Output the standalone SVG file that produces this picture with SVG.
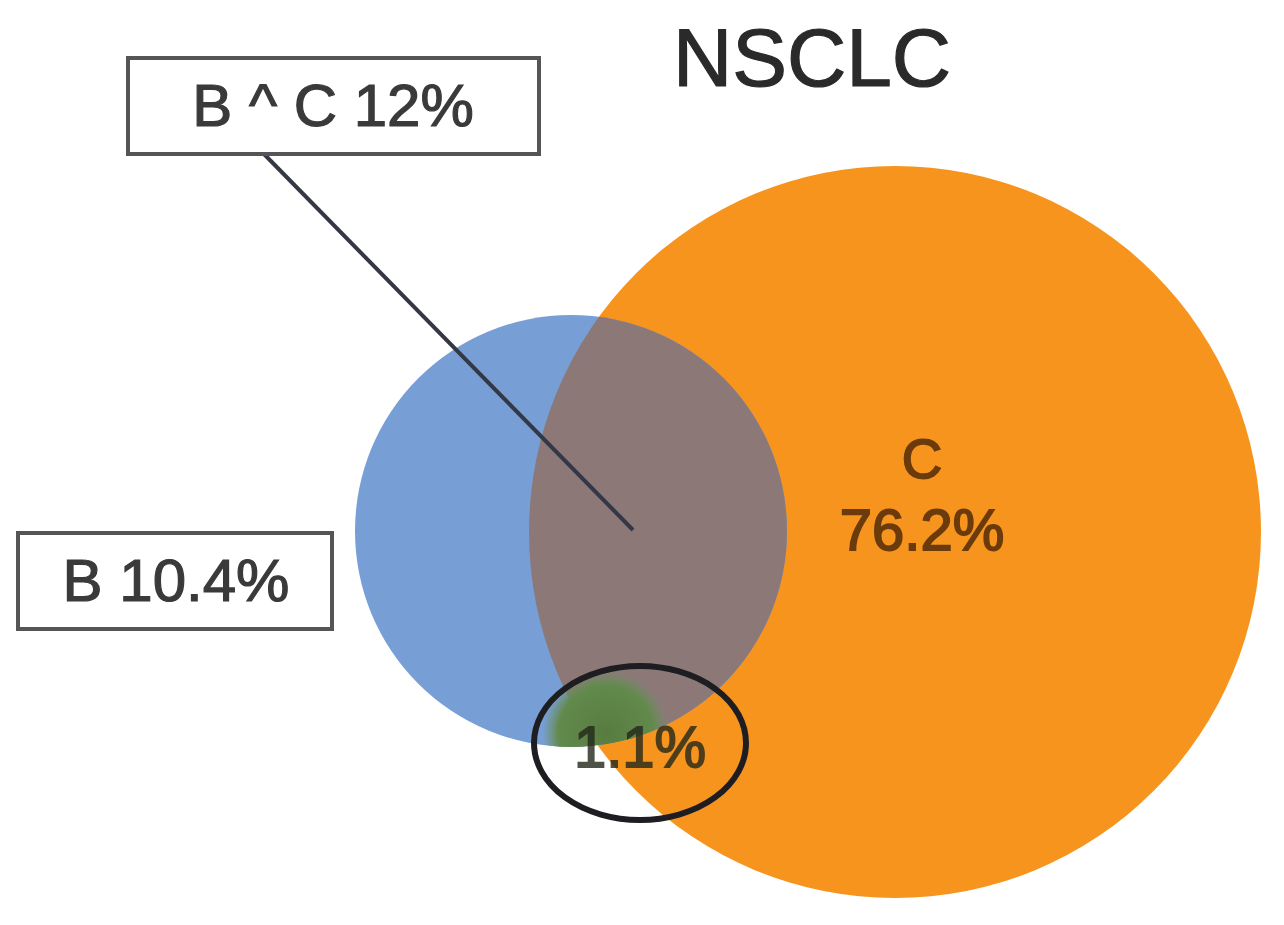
<svg xmlns="http://www.w3.org/2000/svg" width="1284" height="925" viewBox="0 0 1284 925">
<style>
.lbl{font-family:"Liberation Sans",Arial,sans-serif;fill:#3a3a3a;text-anchor:middle;stroke:#3a3a3a;stroke-width:1.2}
.box{fill:#fff;stroke:#555;stroke-width:4}
.cl{fill:#6b3b0c;stroke:#6b3b0c;stroke-width:1.8}
</style>
<defs>
<clipPath id="clipB"><circle cx="571" cy="531" r="216"/></clipPath>
<radialGradient id="gGreen" cx="0.5" cy="0.5" r="0.5">
<stop offset="0" stop-color="#587c40"/>
<stop offset="0.75" stop-color="#628a4c"/>
<stop offset="1" stop-color="#6f8f68" stop-opacity="0"/>
</radialGradient>
</defs>
<rect width="1284" height="925" fill="#fff"/>
<g id="title"><text class="lbl" x="812" y="86" font-size="82" style="fill:#2a2a2a;stroke:#2a2a2a">NSCLC</text></g>
<g id="setC"><circle cx="895" cy="532" r="366" fill="#f7941d"/></g>
<g id="setB"><circle cx="571" cy="531" r="216" fill="#779fd6"/></g>
<g id="setBC"><circle cx="895" cy="532" r="366" fill="#8d7878" clip-path="url(#clipB)"/></g>
<g id="setA"><circle cx="606" cy="733" r="64" fill="url(#gGreen)" clip-path="url(#clipB)"/></g>
<g id="connectors"><line x1="262" y1="152" x2="633" y2="530" stroke="#333844" stroke-width="4"/></g>
<g id="labelBC"><rect class="box" x="128" y="58" width="411" height="96"/><text class="lbl" x="333" y="126" font-size="60">B ^ C 12%</text></g>
<g id="labelB"><rect class="box" x="18" y="533" width="314" height="96"/><text class="lbl" x="176" y="601" font-size="60">B 10.4%</text></g>
<g id="labelC"><text class="lbl cl" x="922" y="478" font-size="56">C</text><text class="lbl cl" x="922" y="550" font-size="58">76.2%</text></g>
<g id="labelA"><ellipse cx="640" cy="743" rx="106" ry="77" fill="none" stroke="#1e1e22" stroke-width="6"/><text class="lbl" x="640" y="767" font-size="58" style="fill:#23281a;stroke:#23281a;stroke-width:1.8;opacity:0.8">1.1%</text></g>
</svg>
